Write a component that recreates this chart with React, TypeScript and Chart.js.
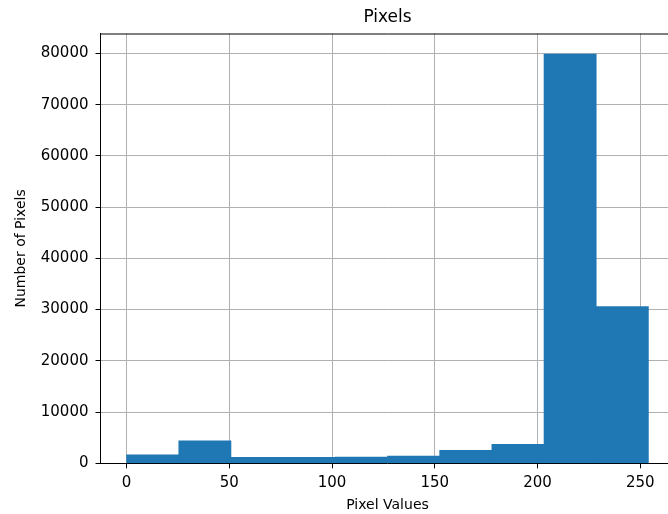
import React, { useEffect, useRef } from "react";
import { Chart, registerables } from "chart.js";

Chart.register(...registerables);

const binEdges = [0, 25.4, 50.8, 76.2, 101.6, 127, 152.4, 177.8, 203.2, 228.6, 254];
const counts = [1630, 4370, 1180, 1170, 1190, 1430, 2550, 3720, 79900, 30600];
const xTicks = [0, 50, 100, 150, 200, 250];
const yTicks = [0, 10000, 20000, 30000, 40000, 50000, 60000, 70000, 80000];

const FONT = "'DejaVu Sans', sans-serif";

export default function App() {
  const ref = useRef<HTMLCanvasElement | null>(null);

  useEffect(() => {
    if (!ref.current) return;
    const points = counts.map((c, i) => ({ x: (binEdges[i] + binEdges[i + 1]) / 2, y: c }));
    const span = binEdges[binEdges.length - 1] - binEdges[0];
    const xMin = binEdges[0] - span * 0.05;
    const xMax = binEdges[binEdges.length - 1] + span * 0.05;
    const yMax = Math.max(...counts) * 1.05;

    const topSpine = {
      id: "topSpine",
      afterDraw(chart: any) {
        const { ctx, chartArea } = chart;
        ctx.save();
        ctx.strokeStyle = "#000";
        ctx.lineWidth = 1;
        ctx.beginPath();
        ctx.moveTo(chartArea.left, chartArea.top + 0.5);
        ctx.lineTo(chartArea.right, chartArea.top + 0.5);
        ctx.stroke();
        ctx.restore();
      },
    };

    const chart = new Chart(ref.current, {
      type: "bar",
      data: {
        datasets: [
          {
            data: points as any,
            backgroundColor: "#1f77b4",
            borderWidth: 0,
            barPercentage: 1,
            categoryPercentage: 1,
            grouped: false,
          } as any,
        ],
      },
      options: {
        animation: false,
        responsive: false,
        devicePixelRatio: 1,
        layout: { padding: { left: 0, right: 15.5, top: 0, bottom: 0 } },
        plugins: {
          legend: { display: false },
          tooltip: { enabled: false },
          title: {
            display: true,
            text: "Pixels",
            color: "#000",
            fullSize: false,
            font: { family: FONT, size: 17, weight: "normal" as any, lineHeight: 1.2 },
            padding: { top: 7, bottom: 6.1 },
          },
        },
        scales: {
          x: {
            type: "linear",
            offset: false,
            min: xMin,
            max: xMax,
            z: 1,
            afterBuildTicks: (s: any) => {
              s.ticks = xTicks.map((v) => ({ value: v }));
            },
            afterFit: (s: any) => {
              s.height = 50.7;
            },
            ticks: {
              autoSkip: false,
              maxRotation: 0,
              color: "#000",
              padding: 6,
              font: { family: FONT, size: 15 },
              callback: (v: any) => String(v),
            },
            grid: {
              offset: false,
              color: "#b0b0b0",
              lineWidth: 1,
              tickColor: "#000",
              tickLength: 5,
              drawTicks: true,
            },
            border: { display: true, color: "#000", width: 1 },
            title: {
              display: true,
              text: "Pixel Values",
              color: "#000",
              font: { family: FONT, size: 14, lineHeight: 1.2 },
              padding: { top: 0, bottom: 0.6 },
            },
          },
          y: {
            type: "linear",
            min: 0,
            max: yMax,
            z: 1,
            afterBuildTicks: (s: any) => {
              s.ticks = yTicks.map((v) => ({ value: v }));
            },
            afterFit: (s: any) => {
              s.width = 100.5;
            },
            ticks: {
              color: "#000",
              padding: 7,
              font: { family: FONT, size: 15 },
              callback: (v: any) => String(v),
            },
            grid: { color: "#b0b0b0", lineWidth: 1, tickColor: "#000", tickLength: 5, drawTicks: true },
            border: { display: true, color: "#000", width: 1 },
            title: {
              display: true,
              text: "Number of Pixels",
              color: "#000",
              font: { family: FONT, size: 14, lineHeight: 1.2 },
              padding: { top: 12.6, bottom: 0 },
            },
          },
        },
      },
      plugins: [topSpine],
    });
    return () => chart.destroy();
  }, []);

  return (
    <div
      style={{
        position: "absolute",
        left: 0,
        top: 0,
        width: 668,
        height: 514,
        overflow: "hidden",
        background: "#fff",
      }}
    >
      <canvas ref={ref} width={690} height={514} style={{ display: "block" }} />
    </div>
  );
}
